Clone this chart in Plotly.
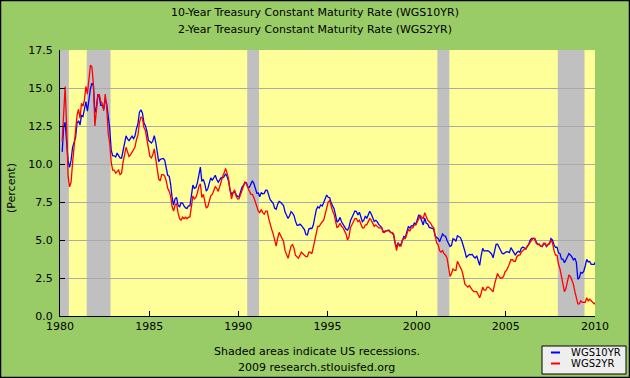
import pandas as pd
import plotly.graph_objects as go

# ---------------- data (monthly, Jan 1980 - Dec 2009) ----------------
start_month = "1980-01-15"
n_months = 360

ten_year = [
    10.80, 12.41, 12.75, 11.47, 10.18, 9.78, 10.25, 11.10, 11.51, 11.75, 12.68, 12.84,  # 1980
    12.57, 13.19, 13.12, 13.68, 14.10, 13.47, 14.28, 14.94, 15.32, 15.15, 13.39, 13.72,  # 1981
    14.59, 14.43, 13.86, 13.87, 13.62, 14.30, 13.95, 13.06, 12.34, 10.91, 10.55, 10.54,  # 1982
    10.46, 10.72, 10.51, 10.40, 10.38, 10.85, 11.38, 11.85, 11.65, 11.54, 11.69, 11.83,  # 1983
    11.67, 11.84, 12.32, 12.63, 13.41, 13.56, 13.36, 12.72, 12.52, 12.16, 11.57, 11.50,  # 1984
    11.38, 11.51, 11.86, 11.43, 10.85, 10.16, 10.31, 10.33, 10.37, 10.24, 9.78, 9.26,    # 1985
    9.19, 8.70, 7.78, 7.30, 7.71, 7.80, 7.30, 7.17, 7.45, 7.43, 7.25, 7.11,              # 1986
    7.08, 7.25, 7.25, 8.02, 8.61, 8.40, 8.45, 8.76, 9.42, 9.80, 8.86, 8.99,              # 1987
    8.67, 8.21, 8.37, 8.72, 9.09, 8.92, 9.06, 9.26, 8.98, 8.80, 8.96, 9.11,              # 1988
    9.09, 9.17, 9.36, 9.18, 8.86, 8.28, 8.02, 8.11, 8.19, 8.01, 7.87, 7.84,              # 1989
    8.21, 8.47, 8.59, 8.79, 8.76, 8.48, 8.47, 8.75, 8.89, 8.72, 8.39, 8.08,              # 1990
    8.09, 7.85, 8.11, 8.04, 8.07, 8.28, 8.27, 7.90, 7.65, 7.53, 7.42, 7.09,              # 1991
    7.03, 7.34, 7.54, 7.48, 7.39, 7.26, 6.84, 6.59, 6.42, 6.59, 6.87, 6.77,              # 1992
    6.60, 6.26, 5.98, 5.97, 6.04, 5.96, 5.81, 5.68, 5.36, 5.33, 5.72, 5.77,              # 1993
    5.75, 5.97, 6.48, 6.97, 7.18, 7.10, 7.30, 7.24, 7.46, 7.74, 7.96, 7.81,              # 1994
    7.78, 7.47, 7.20, 7.06, 6.63, 6.17, 6.28, 6.49, 6.20, 6.04, 5.93, 5.71,              # 1995
    5.65, 5.81, 6.27, 6.51, 6.74, 6.91, 6.87, 6.64, 6.83, 6.53, 6.20, 6.30,              # 1996
    6.58, 6.42, 6.69, 6.89, 6.71, 6.49, 6.22, 6.30, 6.21, 6.03, 5.88, 5.81,              # 1997
    5.54, 5.57, 5.65, 5.64, 5.65, 5.50, 5.46, 5.34, 4.81, 4.53, 4.83, 4.65,              # 1998
    4.72, 5.00, 5.23, 5.18, 5.54, 5.90, 5.79, 5.94, 5.92, 6.11, 6.03, 6.28,              # 1999
    6.66, 6.52, 6.26, 5.99, 6.44, 6.10, 6.05, 5.83, 5.80, 5.74, 5.72, 5.24,              # 2000
    5.16, 5.10, 4.89, 5.14, 5.39, 5.28, 5.24, 4.97, 4.73, 4.57, 4.65, 5.09,              # 2001
    5.04, 4.91, 5.28, 5.21, 5.16, 4.93, 4.65, 4.26, 3.87, 3.94, 4.05, 4.03,              # 2002
    4.05, 3.90, 3.81, 3.96, 3.57, 3.33, 3.98, 4.45, 4.27, 4.29, 4.30, 4.27,              # 2003
    4.15, 4.08, 3.83, 4.35, 4.72, 4.73, 4.50, 4.28, 4.13, 4.10, 4.19, 4.23,              # 2004
    4.22, 4.17, 4.50, 4.34, 4.14, 4.00, 4.18, 4.26, 4.20, 4.46, 4.54, 4.47,              # 2005
    4.42, 4.57, 4.72, 4.99, 5.11, 5.11, 5.09, 4.88, 4.72, 4.73, 4.60, 4.56,              # 2006
    4.76, 4.72, 4.56, 4.69, 4.75, 5.10, 5.00, 4.67, 4.52, 4.53, 4.15, 4.10,              # 2007
    3.74, 3.74, 3.51, 3.68, 3.88, 4.10, 4.01, 3.89, 3.69, 3.81, 3.53, 2.42,              # 2008
    2.52, 2.87, 2.82, 2.93, 3.29, 3.72, 3.56, 3.59, 3.40, 3.39, 3.40, 3.59,              # 2009
]

two_year = [
    11.50, 13.10, 15.10, 12.50, 9.20, 8.50, 8.80, 10.10, 11.30, 12.00, 13.20, 13.60,     # 1980
    13.00, 14.00, 13.80, 14.20, 15.10, 14.60, 15.40, 16.50, 16.40, 15.30, 12.50, 13.40,  # 1981
    14.50, 14.60, 14.10, 14.00, 13.50, 14.60, 13.70, 12.00, 11.40, 10.10, 9.60, 9.60,    # 1982
    9.40, 9.50, 9.60, 9.30, 9.40, 10.10, 10.70, 11.10, 10.80, 10.50, 10.60, 10.80,       # 1983
    10.90, 11.10, 11.60, 11.90, 12.70, 13.10, 13.00, 12.40, 12.20, 11.60, 10.80, 10.50,  # 1984
    10.40, 10.60, 11.00, 10.40, 9.70, 9.00, 8.90, 9.30, 9.30, 9.20, 8.90, 8.40,          # 1985
    8.20, 7.90, 7.20, 6.90, 7.30, 7.40, 6.80, 6.40, 6.30, 6.50, 6.40, 6.50,              # 1986
    6.40, 6.50, 6.50, 7.30, 7.90, 7.70, 7.80, 8.10, 8.50, 8.70, 7.80, 8.00,              # 1987
    7.60, 7.10, 7.20, 7.50, 7.90, 8.00, 8.20, 8.50, 8.40, 8.20, 8.50, 8.90,              # 1988
    9.20, 9.40, 9.70, 9.40, 9.00, 8.30, 7.70, 8.10, 8.30, 7.90, 7.70, 7.70,              # 1989
    8.00, 8.30, 8.50, 8.80, 8.70, 8.40, 8.20, 8.00, 8.00, 7.80, 7.50, 7.20,              # 1990
    6.90, 6.80, 7.00, 6.80, 6.70, 6.90, 6.90, 6.40, 6.00, 5.70, 5.40, 5.00,              # 1991
    4.60, 5.10, 5.50, 5.30, 5.10, 4.90, 4.30, 4.00, 3.80, 4.20, 4.60, 4.70,              # 1992
    4.45, 4.00, 3.90, 3.80, 4.00, 4.20, 4.10, 4.00, 3.90, 3.90, 4.20, 4.20,              # 1993
    4.10, 4.50, 5.00, 5.50, 5.90, 5.90, 6.10, 6.20, 6.30, 6.70, 7.20, 7.50,              # 1994
    7.60, 7.20, 6.90, 6.70, 6.30, 5.80, 5.90, 6.10, 5.90, 5.80, 5.60, 5.40,              # 1995
    5.00, 5.20, 5.80, 6.00, 6.20, 6.40, 6.40, 6.20, 6.30, 6.00, 5.80, 5.80,              # 1996
    6.00, 6.00, 6.20, 6.40, 6.30, 6.10, 5.90, 6.00, 5.90, 5.80, 5.80, 5.80,              # 1997
    5.50, 5.50, 5.60, 5.60, 5.60, 5.50, 5.50, 5.40, 4.90, 4.30, 4.80, 4.60,              # 1998
    4.60, 5.00, 5.10, 5.10, 5.40, 5.70, 5.60, 5.80, 5.80, 6.00, 6.00, 6.20,              # 1999
    6.40, 6.60, 6.50, 6.40, 6.80, 6.50, 6.30, 6.20, 6.10, 5.90, 5.80, 5.30,              # 2000
    4.80, 4.70, 4.30, 4.20, 4.30, 4.10, 4.00, 3.80, 3.10, 2.60, 2.80, 3.10,              # 2001
    3.00, 3.00, 3.60, 3.40, 3.30, 3.00, 2.60, 2.10, 2.00, 1.90, 2.00, 1.80,              # 2002
    1.70, 1.60, 1.60, 1.60, 1.40, 1.20, 1.50, 1.90, 1.70, 1.70, 1.90, 1.90,              # 2003
    1.80, 1.70, 1.60, 2.10, 2.50, 2.80, 2.60, 2.50, 2.50, 2.60, 2.90, 3.00,              # 2004
    3.20, 3.40, 3.70, 3.70, 3.60, 3.60, 3.90, 4.00, 4.00, 4.20, 4.30, 4.40,              # 2005
    4.40, 4.60, 4.70, 4.90, 5.00, 5.10, 5.10, 4.80, 4.70, 4.70, 4.60, 4.60,              # 2006
    4.80, 4.80, 4.60, 4.70, 4.80, 5.00, 4.80, 4.30, 4.00, 4.00, 3.40, 3.10,              # 2007
    2.50, 2.00, 1.60, 1.80, 2.30, 2.70, 2.60, 2.40, 2.10, 1.60, 1.20, 0.80,              # 2008
    0.80, 1.00, 0.90, 0.90, 0.90, 1.20, 1.00, 1.10, 1.00, 0.90, 0.80, 0.90,              # 2009
]

recession_start = ["1980-01-01", "1981-07-01", "1990-07-01", "2001-03-01", "2007-12-01"]
recession_end = ["1980-07-01", "1982-11-01", "1991-03-01", "2001-11-01", "2009-06-01"]

x_tick_years = [1980, 1985, 1990, 1995, 2000, 2005, 2010]
y_tick_values = [0.0, 2.5, 5.0, 7.5, 10.0, 12.5, 15.0, 17.5]

dates = pd.date_range(start_month, periods=n_months, freq="MS") + pd.Timedelta(days=14)

# ---------------- layout geometry (pixels) ----------------
W_FIG, H_FIG = 630, 378
L, R, T, B = 60, 35, 50, 62
PW = W_FIG - L - R
PH = H_FIG - T - B


def px_x(px):
    return (px - L) / PW


def px_y(py):
    return (H_FIG - B - py) / PH


FONT = "DejaVu Sans, Verdana, sans-serif"

fig = go.Figure()
fig.add_trace(go.Scatter(x=dates, y=ten_year, mode="lines", name="WGS10YR",
                         line=dict(color="#0000FF", width=1.3)))
fig.add_trace(go.Scatter(x=dates, y=two_year, mode="lines", name="WGS2YR",
                         line=dict(color="#FF0000", width=1.3)))

shapes = []
for s, e in zip(recession_start, recession_end):
    shapes.append(dict(type="rect", xref="x", yref="paper", x0=s, x1=e, y0=0, y1=1,
                       fillcolor="#C0C0C0", line=dict(width=0), layer="between"))

# legend box (drawn manually to match the small sample lines)
shapes.append(dict(type="rect", xref="paper", yref="paper",
                   x0=px_x(542), x1=px_x(626), y0=px_y(374), y1=px_y(346),
                   fillcolor="#EEEEEE", line=dict(color="#000000", width=1)))
shapes.append(dict(type="line", xref="paper", yref="paper",
                   x0=px_x(551), x1=px_x(560), y0=px_y(352.5), y1=px_y(352.5),
                   line=dict(color="#0000FF", width=2)))
shapes.append(dict(type="line", xref="paper", yref="paper",
                   x0=px_x(551), x1=px_x(560), y0=px_y(363.5), y1=px_y(363.5),
                   line=dict(color="#FF0000", width=2)))
# outer border
shapes.append(dict(type="rect", xref="paper", yref="paper",
                   x0=px_x(0.5), x1=px_x(629.5), y0=px_y(377.5), y1=px_y(0.5),
                   line=dict(color="#000000", width=1.5), fillcolor="rgba(0,0,0,0)"))

annotations = [
    dict(text="10-Year Treasury Constant Maturity Rate (WGS10YR)", x=px_x(315), y=px_y(13),
         xref="paper", yref="paper", showarrow=False, xanchor="center", yanchor="middle",
         font=dict(family=FONT, size=11, color="#000000")),
    dict(text="2-Year Treasury Constant Maturity Rate (WGS2YR)", x=px_x(315), y=px_y(30),
         xref="paper", yref="paper", showarrow=False, xanchor="center", yanchor="middle",
         font=dict(family=FONT, size=11, color="#000000")),
    dict(text="Shaded areas indicate US recessions.", x=px_x(317), y=px_y(351),
         xref="paper", yref="paper", showarrow=False, xanchor="center", yanchor="middle",
         font=dict(family=FONT, size=11, color="#000000")),
    dict(text="2009 research.stlouisfed.org", x=px_x(316), y=px_y(367),
         xref="paper", yref="paper", showarrow=False, xanchor="center", yanchor="middle",
         font=dict(family=FONT, size=11, color="#000000")),
    dict(text="(Percent)", x=px_x(11), y=px_y(188), textangle=-90,
         xref="paper", yref="paper", showarrow=False, xanchor="center", yanchor="middle",
         font=dict(family=FONT, size=11, color="#000000")),
    dict(text="WGS10YR", x=px_x(569), y=px_y(352.5),
         xref="paper", yref="paper", showarrow=False, xanchor="left", yanchor="middle",
         font=dict(family=FONT, size=10, color="#000000")),
    dict(text="WGS2YR", x=px_x(569), y=px_y(363.5),
         xref="paper", yref="paper", showarrow=False, xanchor="left", yanchor="middle",
         font=dict(family=FONT, size=10, color="#000000")),
]

fig.update_layout(
    width=W_FIG, height=H_FIG,
    margin=dict(l=L, r=R, t=T, b=B, pad=0),
    paper_bgcolor="#99CC66",
    plot_bgcolor="#FFFF99",
    showlegend=False,
    font=dict(family=FONT, size=11, color="#000000"),
    shapes=shapes,
    annotations=annotations,
    xaxis=dict(
        type="date",
        range=["1980-01-01", "2010-01-01"],
        tickvals=[f"{y}-01-01" for y in x_tick_years],
        ticktext=[str(y) for y in x_tick_years],
        ticks="inside", ticklen=5, tickwidth=1, tickcolor="#000000",
        showline=True, linecolor="#000000", linewidth=1,
        showgrid=False, zeroline=False, fixedrange=True,
        tickfont=dict(family=FONT, size=11, color="#000000"),
    ),
    yaxis=dict(
        range=[0, 17.5],
        tickvals=y_tick_values,
        ticktext=[f"{v:.1f}" for v in y_tick_values],
        ticks="inside", ticklen=5, tickwidth=1, tickcolor="#000000",
        ticklabelstandoff=4,
        showline=True, linecolor="#000000", linewidth=1,
        showgrid=True, gridcolor="#AAAAAA", gridwidth=1,
        zeroline=False, fixedrange=True,
        tickfont=dict(family=FONT, size=11, color="#000000"),
    ),
)

fig.write_html(
    "out.html",
    config={"displayModeBar": False},
    post_script="document.body.style.margin='0';document.body.style.overflow='hidden';",
)
